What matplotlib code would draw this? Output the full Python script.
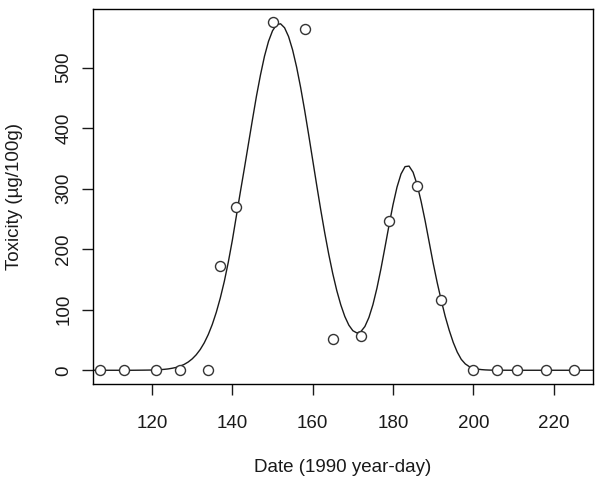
import numpy as np
import matplotlib
matplotlib.use('Agg')
import matplotlib.pyplot as plt

plt.rcParams['font.family'] = ['Liberation Sans', 'DejaVu Sans']

# observed toxicity samples
day = [107, 113, 121, 127, 134, 137, 141, 150, 158, 165, 172, 179, 186, 192,
       200, 206, 211, 218, 225]
toxicity = [0, 0, 0, 0, 0, 172, 270, 575, 564, 52, 56, 247, 304, 116,
            0, 0, 0, 0, 0]

# fitted curve
fit_day = [105, 110, 115, 118, 120, 121, 122, 123, 124, 125, 126, 127, 128, 129,
           130, 131, 132, 133, 134, 135, 136, 137, 138, 139, 140, 141, 142, 143,
           144, 145, 146, 147, 148, 149, 150, 151, 152, 153, 154, 155, 156, 157,
           158, 159, 160, 161, 162, 163, 164, 165, 166, 167, 168, 169, 170, 171,
           172, 173, 174, 175, 176, 177, 178, 179, 180, 181, 182, 183, 184, 185,
           186, 187, 188, 189, 190, 191, 192, 193, 194, 195, 196, 197, 198, 199,
           200, 201, 202, 203, 204, 205, 210, 215, 220, 225, 230]
fit_tox = [0, 0, 0, 0.2, 0.4, 0.6, 1.0, 1.5, 2.2, 3.3, 4.7, 6.9, 9.7, 13.6,
           18.8, 25.6, 34.3, 45.3, 59.0, 75.7, 95.8, 119.5, 147, 179, 215, 255, 295, 334,
           374, 414, 453, 488, 519, 543.5, 561, 571, 572.6, 566, 551.4, 529.4, 501, 467.3,
           429.6, 389.2, 347.6, 305.9, 265.4, 227.1, 191.7, 159.7, 131.7, 108.1, 88.9, 74.6, 65.4, 61.7,
           63.9, 72.3, 87.2, 108.4, 135.7, 167.8, 203.2, 239.3, 273.5, 302.7, 324.4, 336.5, 337.4, 327.2,
           306.9, 279, 247, 212, 177, 145, 116, 89, 66, 46, 30, 18, 10.5, 6,
           3.5, 2, 1.1, 0.6, 0.3, 0.15, 0, 0, 0, 0, 0]

xticks = [120, 140, 160, 180, 200, 220]
yticks = [0, 100, 200, 300, 400, 500]

ink = '#1a1a1a'
fs = 13.5

fig = plt.figure(figsize=(6.02, 4.87), dpi=100)
ax = fig.add_axes([93 / 602, 1 - 384 / 487, 500 / 602, 375 / 487])

ax.plot(fit_day, fit_tox, color=ink, lw=1.0, zorder=2, clip_on=True)
ax.plot(day, toxicity, linestyle='none', marker='o', markersize=7.2,
        markerfacecolor='white', markeredgecolor='#333333', markeredgewidth=1.0,
        zorder=3)

ax.set_xlim(105.3, 229.8)
ax.set_ylim(-22.7, 597)

ax.set_xticks(xticks)
ax.set_yticks(yticks)
ax.set_yticklabels([str(v) for v in yticks], rotation=90, va='center')
ax.tick_params(axis='x', length=8, width=1, pad=14, labelsize=fs, colors=ink)
ax.tick_params(axis='y', length=8, width=1, pad=7, labelsize=fs, colors=ink)

for s in ax.spines.values():
    s.set_linewidth(1.0)
    s.set_color('black')

fig.text(343 / 602, 1 - 468 / 487, 'Date (1990 year-day)', ha='center', va='center',
         fontsize=fs, color=ink)
fig.text(15 / 602, 1 - 196 / 487, 'Toxicity (µg/100g)', ha='center', va='center',
         rotation=90, fontsize=fs, color=ink)

fig.savefig('out.png', dpi=100)
